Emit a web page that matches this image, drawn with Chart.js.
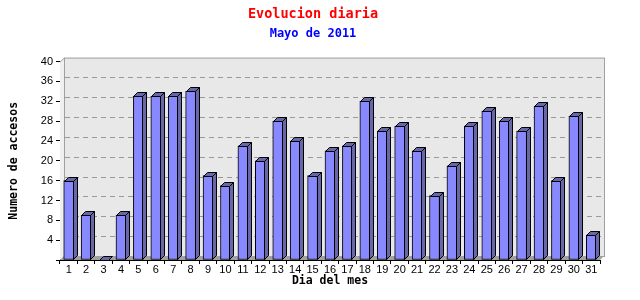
<!DOCTYPE html>
<html>
<head>
<meta charset="utf-8">
<script src="https://cdn.jsdelivr.net/npm/chart.js@4.4.0/dist/chart.umd.min.js"></script>
<style>
  html, body { margin: 0; padding: 0; background: #fff; }
</style>
</head>
<body>
<canvas id="visitas" width="640" height="300"></canvas>
<script>
// datos del mes
const dias = ['1','2','3','4','5','6','7','8','9','10','11','12','13','14','15','16',
  '17','18','19','20','21','22','23','24','25','26','27','28','29','30','31'];
const accesos = [16, 9, 0, 9, 33, 33, 33, 34, 17, 15, 23, 20, 28, 24, 17, 22,
  23, 32, 26, 27, 22, 13, 19, 27, 30, 28, 26, 31, 16, 29, 5];
const yTicks = [4, 8, 12, 16, 20, 24, 28, 32, 36, 40];

const D = 4; // profundidad del efecto 3D

// pared del fondo, suelo y caras laterales de las barras
const fake3d = {
  id: 'fake3d',
  beforeDatasetsDraw(chart) {
    const { ctx, chartArea: a } = chart;
    const y = chart.scales.y;
    ctx.save();
    // pared lateral izquierda
    ctx.fillStyle = '#f0f0f0';
    ctx.beginPath();
    ctx.moveTo(a.left, a.top);
    ctx.lineTo(a.left + D, a.top - D);
    ctx.lineTo(a.left + D, a.bottom - D);
    ctx.lineTo(a.left, a.bottom);
    ctx.closePath();
    ctx.fill();
    // pared del fondo
    ctx.fillStyle = '#e8e8e8';
    ctx.fillRect(a.left + D, a.top - D, a.right - a.left, a.bottom - a.top);
    ctx.strokeStyle = '#a0a0a0';
    ctx.lineWidth = 1;
    ctx.strokeRect(a.left + D + 0.5, a.top - D + 0.5, a.right - a.left, a.bottom - a.top);
    ctx.beginPath();
    ctx.moveTo(a.left, a.top + 0.5);
    ctx.lineTo(a.left + D + 0.5, a.top - D + 0.5);
    ctx.stroke();
    // suelo
    ctx.fillStyle = '#a0a0a0';
    ctx.beginPath();
    ctx.moveTo(a.left, a.bottom);
    ctx.lineTo(a.left + D, a.bottom - D);
    ctx.lineTo(a.right + D, a.bottom - D);
    ctx.lineTo(a.right, a.bottom);
    ctx.closePath();
    ctx.fill();
    // rejilla discontinua
    ctx.strokeStyle = '#999999';
    ctx.setLineDash([5, 4]);
    yTicks.forEach((v) => {
      if (v === 40) return;
      const py = Math.round(y.getPixelForValue(v) - D) + 0.5;
      ctx.beginPath();
      ctx.moveTo(a.left + D + 1, py);
      ctx.lineTo(a.right + D, py);
      ctx.stroke();
    });
    ctx.restore();
  },
  afterDatasetsDraw(chart) {
    const { ctx } = chart;
    const meta = chart.getDatasetMeta(0);
    ctx.save();
    ctx.strokeStyle = '#000';
    ctx.lineWidth = 1;
    ctx.fillStyle = '#6868a8';
    meta.data.forEach((bar) => {
      const { x, y, base, width } = bar.getProps(['x', 'y', 'base', 'width'], true);
      const l = Math.round(x - width / 2) + 0.5;
      const r = Math.round(x + width / 2) - 0.5;
      const t = Math.round(y) + 0.5;
      const b = Math.round(base) - 0.5;
      // cara superior
      ctx.beginPath();
      ctx.moveTo(l, t);
      ctx.lineTo(l + D, t - D);
      ctx.lineTo(r + D, t - D);
      ctx.lineTo(r, t);
      ctx.closePath();
      ctx.fill();
      ctx.stroke();
      // cara lateral
      if (b > t) {
        ctx.beginPath();
        ctx.moveTo(r, t);
        ctx.lineTo(r + D, t - D);
        ctx.lineTo(r + D, b - D);
        ctx.lineTo(r, b);
        ctx.closePath();
        ctx.fill();
        ctx.stroke();
      }
    });
    ctx.restore();
  }
};

const monoBold = (size) => ({ family: 'DejaVu Sans Mono', size: size, weight: 'bold' });
const tickFont = { family: 'Liberation Sans', size: 11 };

new Chart(document.getElementById('visitas'), {
  type: 'bar',
  data: {
    labels: dias,
    datasets: [{
      data: accesos,
      backgroundColor: '#8888ff',
      borderColor: '#000',
      borderWidth: 1,
      borderSkipped: false,
      barThickness: 10,
    }],
  },
  options: {
    responsive: false,
    animation: false,
    layout: { padding: { right: 14 } },
    plugins: {
      legend: { display: false },
      tooltip: { enabled: false },
      title: {
        display: true,
        text: 'Evolucion diaria',
        color: '#ff0000',
        font: monoBold(13.5),
        padding: { top: 6, bottom: 4 },
      },
      subtitle: {
        display: true,
        text: 'Mayo de 2011',
        color: '#0000ff',
        font: monoBold(12),
        padding: { top: 0, bottom: 21 },
      },
    },
    scales: {
      x: {
        afterFit: (scale) => { scale.height = 40; },
        grid: { offset: true, drawOnChartArea: false, tickLength: 4, color: '#000' },
        border: { color: '#000' },
        ticks: { color: '#000', font: tickFont, padding: -1, maxRotation: 0, autoSkip: false },
        title: {
          display: true,
          text: 'Dia del mes',
          color: '#000',
          font: monoBold(11.5),
          padding: { top: 0, bottom: 12 },
        },
      },
      y: {
        min: 0,
        max: 40,
        afterFit: (scale) => { scale.width = 60; },
        grid: { drawOnChartArea: false, tickLength: 4, color: '#000' },
        border: { color: '#000' },
        ticks: {
          stepSize: 4,
          color: '#000',
          font: tickFont,
          padding: 3,
          callback: (v) => (yTicks.includes(v) ? String(v) : ''),
        },
        title: {
          display: true,
          text: 'Numero de accesos',
          color: '#000',
          font: monoBold(11.5),
          padding: { top: 7, bottom: 0 },
        },
      },
      // margen derecho vacío, sin dibujar nada
      margen: {
        type: 'linear',
        position: 'right',
        display: true,
        afterFit: (scale) => { scale.width = 26; },
        grid: { display: false },
        border: { display: false },
        ticks: { display: false },
      },
    },
  },
  plugins: [fake3d],
});
</script>
</body>
</html>
